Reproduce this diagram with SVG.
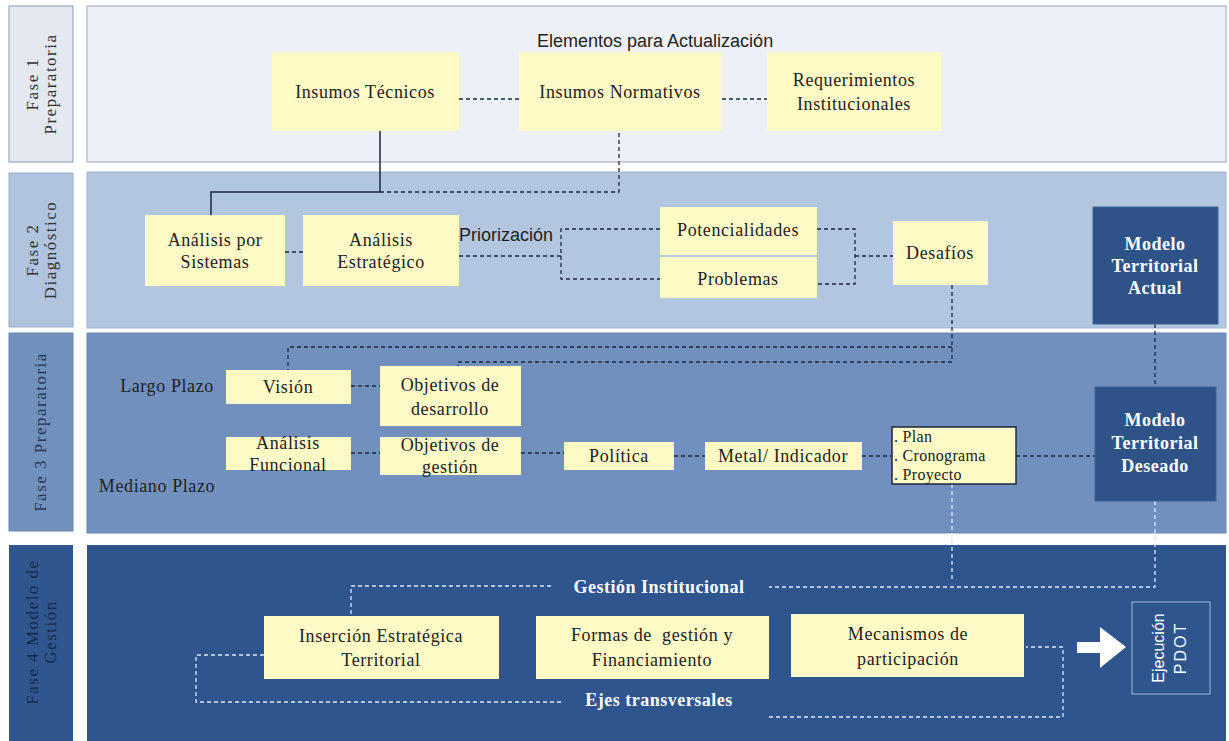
<svg xmlns="http://www.w3.org/2000/svg" width="1229" height="741" viewBox="0 0 1229 741">
<style>
.t{font-family:"Liberation Serif",serif;font-size:18px;letter-spacing:0.6px;fill:#222;text-anchor:middle}
.s{font-family:"Liberation Sans",sans-serif;font-size:18px;fill:#222}
.ph{font-family:"Liberation Serif",serif;font-size:17px;letter-spacing:1.5px;text-anchor:middle}
.w{font-family:"Liberation Serif",serif;font-size:18px;letter-spacing:0.5px;font-weight:bold;fill:#fff;text-anchor:middle}
.p{font-family:"Liberation Serif",serif;font-size:16px;letter-spacing:0.3px;fill:#222}
.y{fill:#fdfac6}
.dk{fill:#2e5389;stroke:#3d6299;stroke-width:1}
.d{fill:none;stroke:#1d2840;stroke-width:1.3;stroke-dasharray:4 3}
.l{fill:none;stroke:#dfe6f2;stroke-width:1.3;stroke-dasharray:4 3}
</style>
<rect width="1229" height="741" fill="#fff"/>
<g id="phases">
<rect x="9" y="6" width="64" height="156" fill="#e4e8f1" stroke="#8c9ab3"/>
<rect x="87" y="6" width="1139" height="156" fill="#eef0f7" stroke="#9aa6bb"/>
<rect x="9" y="173" width="64" height="154" fill="#b1c4df" stroke="#9aaecb"/>
<rect x="87" y="172" width="1139" height="156" fill="#b3c6e0" stroke="#a3b6d2"/>
<rect x="9" y="333" width="64" height="198" fill="#7090bd" stroke="#6a88b4"/>
<rect x="87" y="333" width="1139" height="200" fill="#7190bd" stroke="#6a88b4"/>
<rect x="9" y="545" width="64" height="196" fill="#2f568f"/>
<rect x="87" y="545" width="1139" height="196" fill="#2f558e"/>
<text class="ph" fill="#333" transform="translate(38,84) rotate(-90)">Fase 1</text>
<text class="ph" fill="#333" transform="translate(56,84) rotate(-90)">Preparatoria</text>
<text class="ph" fill="#333" transform="translate(38,250) rotate(-90)">Fase 2</text>
<text class="ph" fill="#333" transform="translate(56,250) rotate(-90)">Diagnóstico</text>
<text class="ph" fill="#2a3550" transform="translate(46,432) rotate(-90)">Fase 3 Preparatoria</text>
<text class="ph" fill="#172a4a" transform="translate(38,632) rotate(-90)">Fase 4 Modelo de</text>
<text class="ph" fill="#172a4a" transform="translate(56,632) rotate(-90)">Gestión</text>
</g>
<g id="connectors">
<path d="M380,131 V192 H211 V215" fill="none" stroke="#1d2840" stroke-width="1.5"/>
<path class="d" d="M380,192 H619 V131"/>
<path class="d" d="M459,99 H519"/>
<path class="d" d="M722,99 H767"/>
<path class="d" d="M285,252 H303"/>
<path class="d" d="M459,256 H561"/>
<path class="d" d="M660,229 H561 V279 H660"/>
<path class="d" d="M817,229 H855 V284 H817"/>
<path class="d" d="M855,256 H893"/>
<path class="d" d="M952,285 V362 H458 V366"/>
<path class="d" d="M952,347 H288 V370"/>
<path class="d" d="M1155,324 V387"/>
<path class="d" d="M351,386 H380"/>
<path class="d" d="M351,453 H380"/>
<path class="d" d="M521,453 H564"/>
<path class="d" d="M674,456 H705"/>
<path class="d" d="M862,456 H892"/>
<path class="d" d="M1016,456 H1095"/>
<path class="l" d="M952,484 V580"/>
<path class="l" d="M1155,501 V587 H769"/>
<path class="l" d="M551,586 H351 V616"/>
<path class="l" d="M264,655 H196 V702 H562"/>
<path class="l" d="M769,717 H1063 V647 H1026"/>
<path d="M1077,642 H1100 V627 L1126,647 L1100,668 V653 H1077 Z" fill="#fff"/>
</g>
<text class="s" x="537" y="47">Elementos para Actualización</text>
<g id="insumos-tecnicos"><rect class="y" x="272" y="52" width="187" height="79"/><text class="t" x="365" y="98">Insumos Técnicos</text></g>
<g id="insumos-normativos"><rect class="y" x="519" y="52" width="203" height="79"/><text class="t" x="620" y="98">Insumos Normativos</text></g>
<g id="requerimientos"><rect class="y" x="767" y="52" width="174" height="79"/><text class="t" x="854" y="86">Requerimientos</text><text class="t" x="854" y="110">Institucionales</text></g>
<g id="analisis-sistemas"><rect class="y" x="145" y="215" width="140" height="71"/><text class="t" x="215" y="246">Análisis por</text><text class="t" x="215" y="268">Sistemas</text></g>
<g id="analisis-estrategico"><rect class="y" x="303" y="215" width="156" height="71"/><text class="t" x="381" y="246">Análisis</text><text class="t" x="381" y="268">Estratégico</text></g>
<text class="s" x="459" y="241">Priorización</text>
<g id="potencialidades"><rect class="y" x="660" y="207" width="157" height="48"/><text class="t" x="738" y="236">Potencialidades</text></g>
<g id="problemas"><rect class="y" x="660" y="257" width="157" height="41"/><text class="t" x="738" y="285">Problemas</text></g>
<g id="desafios"><rect class="y" x="893" y="221" width="95" height="64"/><text class="t" x="940" y="259">Desafíos</text></g>
<g id="modelo-actual"><rect class="dk" x="1093" y="207" width="125" height="117"/><text class="w" x="1155" y="250">Modelo</text><text class="w" x="1155" y="272">Territorial</text><text class="w" x="1155" y="294">Actual</text></g>
<text class="t" x="167" y="392">Largo Plazo</text>
<g id="vision"><rect class="y" x="226" y="370" width="125" height="34"/><text class="t" x="288" y="393">Visión</text></g>
<g id="objetivos-desarrollo"><rect class="y" x="380" y="366" width="141" height="60"/><text class="t" x="450" y="391">Objetivos de</text><text class="t" x="450" y="415">desarrollo</text></g>
<g id="analisis-funcional"><rect class="y" x="226" y="437" width="125" height="33"/><text class="t" x="288" y="449">Análisis</text><text class="t" x="288" y="471">Funcional</text></g>
<g id="objetivos-gestion"><rect class="y" x="380" y="437" width="141" height="38"/><text class="t" x="450" y="451">Objetivos de</text><text class="t" x="450" y="473">gestión</text></g>
<text class="t" x="157" y="492">Mediano Plazo</text>
<g id="politica"><rect class="y" x="564" y="442" width="110" height="28"/><text class="t" x="619" y="462">Política</text></g>
<g id="meta-indicador"><rect class="y" x="705" y="442" width="157" height="28"/><text class="t" x="783" y="462">Metal/ Indicador</text></g>
<g id="plan"><rect x="892" y="427" width="124" height="57" fill="#fdfac6" stroke="#1d2840" stroke-width="1.5"/>
<text class="p" x="894" y="442">. Plan</text>
<text class="p" x="894" y="461">. Cronograma</text>
<text class="p" x="894" y="480">. Proyecto</text></g>
<g id="modelo-deseado"><rect class="dk" x="1095" y="387" width="121" height="114"/><text class="w" x="1155" y="426">Modelo</text><text class="w" x="1155" y="449">Territorial</text><text class="w" x="1155" y="472">Deseado</text></g>
<text class="w" x="659" y="593">Gestión Institucional</text>
<g id="insercion"><rect class="y" x="264" y="616" width="235" height="63"/><text class="t" x="381" y="642">Inserción Estratégica</text><text class="t" x="381" y="666">Territorial</text></g>
<g id="formas"><rect class="y" x="536" y="616" width="233" height="63"/><text class="t" x="652" y="641" xml:space="preserve">Formas de  gestión y</text><text class="t" x="652" y="666">Financiamiento</text></g>
<g id="mecanismos"><rect class="y" x="791" y="614" width="233" height="63"/><text class="t" x="908" y="640">Mecanismos de</text><text class="t" x="908" y="665">participación</text></g>
<text class="w" x="659" y="706">Ejes transversales</text>
<g id="ejecucion"><rect x="1132" y="602" width="78" height="92" fill="none" stroke="#8ea6cc" stroke-width="1.2"/>
<text font-family="Liberation Sans, sans-serif" font-size="16" fill="#fff" text-anchor="middle" transform="translate(1164,648) rotate(-90)">Ejecución</text>
<text font-family="Liberation Sans, sans-serif" font-size="16" fill="#fff" text-anchor="middle" letter-spacing="2" transform="translate(1186,648) rotate(-90)">PDOT</text></g>
</svg>
